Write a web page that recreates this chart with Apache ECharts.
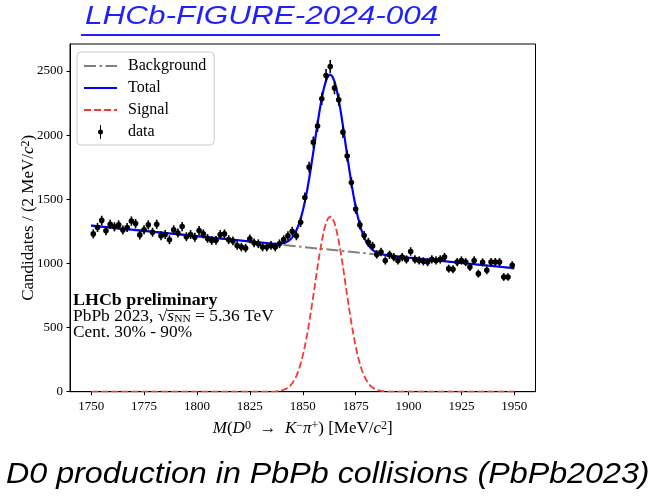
<!DOCTYPE html>
<html><head><meta charset="utf-8">
<script src="https://cdn.jsdelivr.net/npm/echarts@6/dist/echarts.min.js"></script>
<style>html,body{margin:0;padding:0;background:#fff}#c{width:654px;height:497px}</style>
</head><body><div id="c"></div>
<script>
// ---- data ----
const massBins = [1751,1753,1755,1757,1759,1761,1763,1765,1767,1769,1771,1773,1775,1777,1779,1781,1783,1785,1787,1789,1791,1793,1795,1797,1799,1801,1803,1805,1807,1809,1811,1813,1815,1817,1819,1821,1823,1825,1827,1829,1831,1833,1835,1837,1839,1841,1843,1845,1847,1849,1851,1853,1855,1857,1859,1861,1863,1865,1867,1869,1871,1873,1875,1877,1879,1881,1883,1885,1887,1889,1891,1893,1895,1897,1899,1901,1903,1905,1907,1909,1911,1913,1915,1917,1919,1921,1923,1925,1927,1929,1931,1933,1935,1937,1939,1941,1943,1945,1947,1949];
const counts = [1230,1280,1335,1255,1305,1285,1300,1260,1280,1330,1310,1222,1262,1300,1243,1305,1215,1225,1184,1262,1237,1287,1208,1225,1204,1256,1230,1195,1178,1180,1225,1230,1185,1175,1140,1127,1119,1191,1160,1153,1127,1127,1140,1127,1153,1185,1215,1250,1215,1320,1514,1750,1945,2070,2283,2465,2535,2367,2276,2023,1837,1630,1424,1300,1217,1165,1135,1070,1088,1023,1067,1049,1023,1049,1031,1093,1031,1023,1016,1010,1031,1023,1031,1049,959,954,1010,1023,1010,972,1023,920,1008,946,1010,1010,1010,894,894,985];

const bgMass = [1750,1800,1850,1900,1950];
const bgVal  = [1295,1212,1128,1045,962];

const sigMass = [1750,1835,1836,1837,1838,1839,1840,1841,1842,1843,1844,1845,1846,1847,1848,1849,1850,1851,1852,1853,1854,1855,1856,1857,1858,1859,1860,1861,1862,1863,1864,1865,1866,1867,1868,1869,1870,1871,1872,1873,1874,1875,1876,1877,1878,1879,1880,1881,1882,1883,1884,1885,1886,1887,1888,1889,1890,1891,1950];
const sigVal  = [0,1,1,2,4,6,10,15,22,32,46,65,91,124,165,217,280,354,439,534,639,749,862,974,1080,1175,1254,1315,1352,1365,1352,1315,1254,1175,1080,974,862,749,639,534,439,354,280,217,165,124,91,65,46,32,22,15,10,6,4,2,1,1,0];

const totMass = [1750,1800,1835,1836,1837,1838,1839,1840,1841,1842,1843,1844,1845,1846,1847,1848,1849,1850,1851,1852,1853,1854,1855,1856,1857,1858,1859,1860,1861,1862,1863,1864,1865,1866,1867,1868,1869,1870,1871,1872,1873,1874,1875,1876,1877,1878,1879,1880,1881,1882,1883,1884,1885,1886,1887,1888,1889,1890,1891,1900,1950];
const totVal  = [1295,1212,1155,1153,1152,1153,1153,1155,1159,1164,1172,1185,1202,1226,1258,1297,1347,1409,1481,1564,1658,1761,1869,1981,2091,2195,2289,2366,2425,2461,2472,2457,2419,2356,2275,2179,2071,1957,1843,1731,1624,1528,1441,1365,1301,1247,1204,1170,1142,1121,1106,1094,1085,1079,1073,1069,1066,1063,1061,1045,962];

const xTicks = [1750,1775,1800,1825,1850,1875,1900,1925,1950];
const yTicks = [0,500,1000,1500,2000,2500];

// ---- build ----
const zip = (a,b) => a.map((v,i)=>[v,b[i]]);
const SERIF = 'Liberation Serif';
const chart = echarts.init(document.getElementById('c'), null, {renderer:'canvas'});
const hideSym = {color:'rgba(0,0,0,0)', borderWidth:0, borderColor:'rgba(0,0,0,0)'};

const option = {
  animation:false,
  backgroundColor:'#fff',
  grid:{left:70, right:118.5, top:44, bottom:105.3, show:true, borderColor:'#000', borderWidth:1, backgroundColor:'transparent'},
  xAxis:{type:'value', min:1740, max:1960,
    axisLine:{show:true, lineStyle:{color:'#000', width:1}},
    axisTick:{show:true, inside:false, length:3.5, customValues:xTicks, lineStyle:{color:'#000'}},
    axisLabel:{customValues:xTicks, margin:8, color:'#000', fontFamily:SERIF, fontSize:13, formatter:v=>String(v)},
    splitLine:{show:false},
    name:'{i|M}({i|D}{sup|0}  →  {i|K}{sup|−}{i|π}{sup|+}) [MeV/{i|c}{sup|2}]',
    nameLocation:'middle', nameGap:28,
    nameTextStyle:{color:'#000', fontFamily:SERIF, fontSize:17,
      rich:{i:{fontStyle:'italic', fontFamily:SERIF, fontSize:17, color:'#000'},
            sup:{fontSize:12, fontFamily:SERIF, verticalAlign:'top', color:'#000'}}}
  },
  yAxis:{type:'value', min:0, max:2710,
    axisLine:{show:true, lineStyle:{color:'#000', width:1}},
    axisTick:{show:true, inside:false, length:3.5, customValues:yTicks, lineStyle:{color:'#000'}},
    axisLabel:{customValues:yTicks, margin:7, color:'#000', fontFamily:SERIF, fontSize:13, formatter:v=>String(v)},
    splitLine:{show:false},
    name:'Candidates / (2 MeV/{i|c}{sup|2})',
    nameLocation:'middle', nameGap:33, nameRotate:90, nameMoveOverlap:false,
    nameTextStyle:{color:'#000', fontFamily:SERIF, fontSize:17,
      rich:{i:{fontStyle:'italic', fontFamily:SERIF, fontSize:17, color:'#000'},
            sup:{fontSize:12, fontFamily:SERIF, verticalAlign:'top', color:'#000'}}}
  },
  legend:{
    orient:'vertical', left:77, top:52,
    data:[{name:'Background', itemStyle:hideSym},{name:'Total', itemStyle:hideSym},{name:'Signal', itemStyle:hideSym},
          {name:'data', icon:'path://M16,0L17,0L17,14L16,14Z M14,7A2.5,2.5 0 1 1 19,7A2.5,2.5 0 1 1 14,7Z'}],
    itemWidth:33, itemHeight:14, itemGap:6,
    padding:[6,8,5,6],
    backgroundColor:'rgba(255,255,255,0.8)', borderColor:'#cccccc', borderWidth:1, borderRadius:4,
    textStyle:{fontFamily:SERIF, fontSize:16, color:'#000', padding:[0,0,0,6]}
  },
  graphic:[
    {type:'text', x:85, y:4, scaleX:1.21, originX:0,
      style:{text:'LHCb-FIGURE-2024-004', font:'italic 26px "Liberation Sans"', fill:'#1f1fff'}},
    {type:'line', shape:{x1:81, y1:35, x2:440, y2:35}, style:{stroke:'#1f1fff', lineWidth:2}},
    {type:'text', x:73, y:293, scaleX:1.12, originX:0,
      style:{text:'LHCb preliminary', font:'bold 16px "Liberation Serif"', fill:'#000'}},
    {type:'text', x:73, y:309, scaleX:1.09, originX:0,
      style:{text:'PbPb 2023, √{i|s}{sub|NN} = 5.36 TeV', font:'16px "Liberation Serif"', fill:'#000',
        rich:{i:{fontStyle:'italic', fontFamily:SERIF, fontSize:16, fill:'#000'},
              sub:{fontSize:10.5, fontFamily:SERIF, verticalAlign:'bottom', fill:'#000'}}}},
    {type:'line', shape:{x1:167, y1:310.5, x2:190, y2:310.5}, style:{stroke:'#000', lineWidth:0.9}},
    {type:'text', x:73, y:325, scaleX:1.08, originX:0,
      style:{text:'Cent. 30% - 90%', font:'16px "Liberation Serif"', fill:'#000'}},
    {type:'text', x:6, y:460, scaleX:1.075, originX:0,
      style:{text:'D0 production in PbPb collisions (PbPb2023)', font:'italic 30px "Liberation Sans"', fill:'#000'}}
  ],
  series:[
    {name:'Background', type:'line', data:zip(bgMass,bgVal), symbol:'none', z:2,
      lineStyle:{color:'#808080', width:2, type:[12,3.5,2.5,3.5]}, itemStyle:{color:'#808080'}},
    {name:'Total', type:'line', data:zip(totMass,totVal), symbol:'none', z:3,
      lineStyle:{color:'#0000ff', width:2.2}, itemStyle:{color:'#0000ff'}},
    {name:'Signal', type:'line', data:zip(sigMass,sigVal), symbol:'none', z:4,
      lineStyle:{color:'#f43a32', width:1.8, type:[7,3]}, itemStyle:{color:'#f43a32'}},
    {name:'data', type:'custom', z:5, itemStyle:{color:'#000'},
      data:zip(massBins,counts),
      renderItem:function(params, api){
        const m = api.value(0), v = api.value(1), e = Math.sqrt(v);
        const c = api.coord([m, v]);
        const t = api.coord([m, v + e]), b = api.coord([m, v - e]);
        const l = api.coord([m - 1, v]), r = api.coord([m + 1, v]);
        return {type:'group', children:[
          {type:'line', shape:{x1:c[0], y1:t[1], x2:c[0], y2:b[1]}, style:{stroke:'#000', lineWidth:1.6}},
          {type:'line', shape:{x1:l[0], y1:c[1], x2:r[0], y2:c[1]}, style:{stroke:'#000', lineWidth:1.6}},
          {type:'circle', shape:{cx:c[0], cy:c[1], r:2.8}, style:{fill:'#000'}}
        ]};
      }}
  ]
};
chart.setOption(option);
</script></body></html>
